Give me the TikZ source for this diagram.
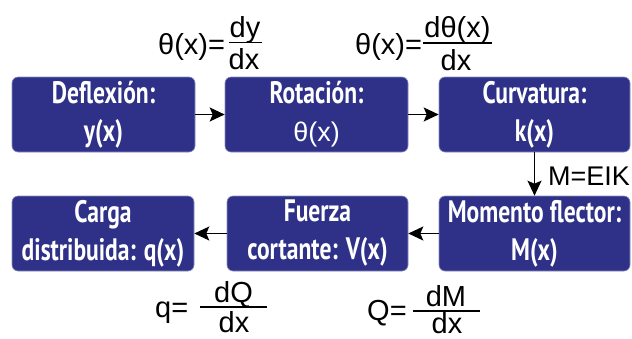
\documentclass[tikz,border=0pt]{standalone}
\usepackage{fontspec}
\setmainfont{Liberation Sans}
\newfontfamily\boxfont[FakeStretch=0.76]{PT Sans}
\newcommand\grfont{\rmfamily\mdseries\fontsize{27}{38}\selectfont}
\usetikzlibrary{arrows.meta}
\definecolor{navy}{RGB}{46,49,135}
\begin{document}
\begin{tikzpicture}[x=1pt,y=-1pt,
  blk/.style={fill=navy, draw=navy!55!white, line width=0.6pt, rounded corners=6pt,
    minimum height=75pt, inner sep=0pt, align=center, text=white,
    font=\boxfont\bfseries\fontsize{31}{38}\selectfont},
  arr/.style={line width=1.5pt, -{Stealth[length=15pt,width=14pt,inset=3pt]}},
  form/.style={inner sep=0pt, font=\fontsize{29}{34}\selectfont},
  fbar/.style={line width=1.6pt}]
\useasboundingbox (0,0) rectangle (632,338);
% boxes
\node[blk, minimum width=183pt] (defl) at (103.5,114.5) {Deflexión:\\y(x)};
\node[blk, minimum width=183pt] (rot) at (316.5,114.5) {Rotación:\\{\grfont θ(x)}};
\node[blk, minimum width=191pt] (curv) at (534.5,114.5) {Curvatura:\\k(x)};
\node[blk, minimum width=182pt] (carga) at (103,233.5) {Carga\\distribuida: q(x)};
\node[blk, minimum width=181pt] (fuerza) at (317.5,233.5) {Fuerza\\cortante: V(x)};
\node[blk, minimum width=191pt] (mom) at (534.5,233.5) {Momento flector:\\M(x)};
% arrows
\draw[arr] (defl) -- (rot);
\draw[arr] (rot) -- (curv);
\draw[arr] (curv) -- (mom);
\draw[arr] (mom) -- (fuerza);
\draw[arr] (fuerza) -- (carga);
\node[form, anchor=west, font=\fontsize{27}{32}\selectfont] (eik) at (548,176) {M=EIK};
% formula 1
\node[form, anchor=base west] (f1l) at (158,54) {θ(x)=};
\node[form, anchor=base] (f1n) at (245,37) {dy};
\node[form, anchor=base] (f1d) at (244,69) {dx};
\draw[fbar] (229,42.5) -- (262,42.5);
% formula 2
\node[form, anchor=base west] (f2l) at (355,54) {θ(x)=};
\node[form, anchor=base] (f2n) at (457.5,37) {dθ(x)};
\node[form, anchor=base] (f2d) at (456,70) {dx};
\draw[fbar] (423,43) -- (492,43);
% formula 3
\node[form, anchor=base west] (f3l) at (155,317) {q=};
\node[form, anchor=base] (f3n) at (233.5,302) {dQ};
\node[form, anchor=base] (f3d) at (234,332) {dx};
\draw[fbar] (200,307) -- (267,307);
% formula 4
\node[form, anchor=base west] (f4l) at (367,320) {Q=};
\node[form, anchor=base] (f4n) at (446,306) {dM};
\node[form, anchor=base] (f4d) at (447,333) {dx};
\draw[fbar] (413,311) -- (480,311);
\end{tikzpicture}
\end{document}
